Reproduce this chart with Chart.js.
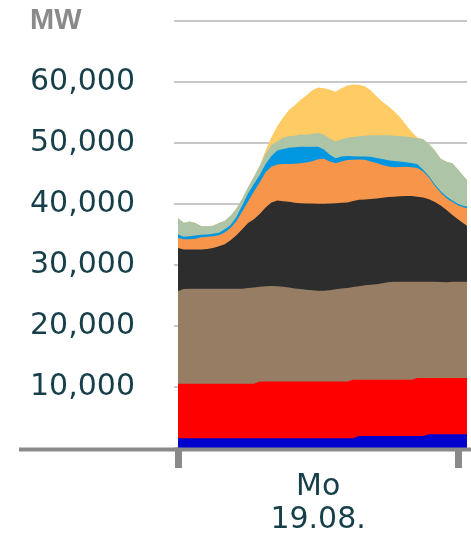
<!DOCTYPE html>
<html>
<head>
<meta charset="utf-8">
<script src="https://cdn.jsdelivr.net/npm/chart.js@4.4.0/dist/chart.umd.min.js"></script>
<style>
  html, body { margin: 0; padding: 0; background: #fff; }
  #box { width: 471px; height: 533px; position: relative; }
</style>
</head>
<body>
<div id="box"><canvas id="erzeugung"></canvas></div>
<script>
// Stunden des Tages (halbstuendlich, letzter Punkt 24:45)
let stunden = [0, 0.5, 1, 1.5, 2, 2.5, 3, 3.5, 4, 4.5, 5, 5.5, 6, 6.5, 7, 7.5, 8, 8.5, 9, 9.5,
  10, 10.5, 11, 11.5, 12, 12.5, 13, 13.5, 14, 14.5, 15, 15.5, 16, 16.5, 17, 17.5, 18, 18.5, 19, 19.5,
  20, 20.5, 21, 21.5, 22, 22.5, 23, 23.5, 24, 24.5, 24.75];

// Werte in MW, von unten nach oben gestapelt
let blau = [1600, 1600, 1600, 1600, 1600, 1600, 1600, 1600, 1600, 1600, 1600, 1600, 1600, 1600, 1600, 1600,
  1600, 1600, 1600, 1600, 1600, 1600, 1600, 1600, 1600, 1600, 1600, 1600, 1600, 1600, 1600,
  1950, 1950, 1950, 1950, 1950, 1950, 1950, 1950, 1950, 1950, 1950, 1950,
  2250, 2250, 2250, 2250, 2250, 2250, 2250, 2250];
let rot = [8950, 8950, 8950, 8950, 8950, 8950, 8950, 8950, 8950, 8950, 8950, 8950, 8950, 8950,
  9330, 9330, 9330, 9330, 9330, 9330, 9330, 9330, 9330, 9330, 9330, 9330, 9330, 9330, 9330, 9330,
  9600, 9250, 9250, 9250, 9250, 9250, 9250, 9250, 9250, 9250, 9250,
  9520, 9520, 9220, 9220, 9220, 9220, 9220, 9220, 9220, 9220];
let braun = [15220, 15550, 15600, 15600, 15600, 15600, 15600, 15600, 15600, 15600, 15600, 15600,
  15700, 15770, 15520, 15620, 15660, 15600, 15540, 15400, 15250, 15160, 15050, 14960, 14870, 14890,
  14950, 15100, 15240, 15340, 15200, 15360, 15520, 15590, 15660, 15830, 16010, 16060, 16080, 16090,
  16090, 15820, 15820, 15820, 15820, 15760, 15730, 15820, 15820, 15820, 15820];
let schwarz = [7060, 6470, 6420, 6420, 6420, 6500, 6680, 6950, 7300, 7950,
  8750, 9750, 10650, 11230, 11950, 12900, 13710, 14080, 14030, 14070,
  14070, 14090, 14140, 14210, 14270, 14250, 14220, 14120, 14060, 14030,
  14150, 14180, 14060, 14050, 14090, 14040, 13960, 13980, 14020, 14080,
  14040, 13940, 13810, 13510, 13060, 12570, 11850, 10960, 10210, 9510, 9190];
let orange = [1630, 1680, 1680, 1780, 2010, 2000, 1910, 1800, 1900, 2000,
  2300, 2900, 3550, 4550, 5200, 5800, 5850, 5890, 6090, 6190,
  6400, 6530, 6730, 6950, 7330, 7380, 6900, 6570, 6770, 6950,
  6750, 6590, 6520, 6160, 5800, 5380, 5030, 4810, 4800, 4780,
  4720, 4720, 4250, 3550, 2650, 2100, 1950, 2100, 2300, 2650, 2880];
let hellblau = [560, 400, 500, 500, 420, 400, 410, 400, 550, 500,
  700, 1000, 1300, 1200, 1200, 1350, 1750, 2300, 2460, 2660,
  2700, 2710, 2570, 2370, 2020, 1550, 1100, 830, 850, 650,
  580, 520, 520, 790, 850, 970, 1030, 1050, 900, 750,
  700, 600, 300, 250, 250, 250, 250, 250, 250, 250, 250];
let gruen = [2700, 2300, 2400, 2050, 1370, 1320, 1320, 1620, 1400, 1500,
  1400, 1100, 1050, 1200, 1500, 1600, 1800, 1500, 1900, 1900,
  1900, 2030, 1980, 2130, 2280, 2450, 2700, 2750, 2800, 3000,
  3170, 3300, 3430, 3540, 3730, 3910, 4090, 4150, 4200, 4220,
  4230, 4280, 5000, 5300, 5550, 5300, 5720, 6120, 5600, 4800, 4380];
let gelb = [0, 0, 0, 0, 0, 0, 0, 0, 0, 0, 0, 0, 0, 0,
  50, 600, 1300, 2500, 3300, 4300, 5000, 5700, 6500, 7150, 7450,
  7600, 8000, 8150, 8400, 8600, 8590, 8450, 8100, 7370, 6370,
  5470, 4780, 4050, 3100, 1980, 920, 120,
  0, 0, 0, 0, 0, 0, 0, 0, 0];

let xTicks = [0, 12, 24];
let xBeschriftung = { 12: ['Mo', '19.08.'] };

const textFarbe = '#173f4a';
const achsenGrau = '#8a8a8a';

function schicht(werte, farbe) {
    return {
        data: werte,
        backgroundColor: farbe,
        borderWidth: 0,
        pointRadius: 0,
        fill: 'origin',
        tension: 0
    };
}

// lange graue Grundlinie unter dem Diagramm
const grundlinie = {
    id: 'grundlinie',
    afterDraw(chart) {
        let c = chart.ctx;
        let y = chart.chartArea.bottom + 1.5;
        c.save();
        c.strokeStyle = achsenGrau;
        c.lineWidth = 4;
        c.beginPath();
        c.moveTo(19, y);
        c.lineTo(471, y);
        c.stroke();
        c.restore();
    }
};

new Chart(document.getElementById('erzeugung'), {
    type: 'line',
    data: {
        labels: stunden,
        datasets: [
            schicht(blau, '#0000cd'),
            schicht(rot, '#ff0000'),
            schicht(braun, '#967d64'),
            schicht(schwarz, '#2d2d2d'),
            schicht(orange, '#f7964b'),
            schicht(hellblau, '#0096e0'),
            schicht(gruen, '#adc4a7'),
            schicht(gelb, '#ffcb64')
        ]
    },
    options: {
        responsive: true,
        maintainAspectRatio: false,
        animation: false,
        events: [],
        layout: { padding: { left: 30, right: 4, top: 19, bottom: 0 } },
        plugins: {
            legend: { display: false },
            tooltip: { enabled: false },
            title: { display: false }
        },
        scales: {
            x: {
                type: 'linear',
                min: 0,
                max: 24.75,
                border: { display: false },
                grid: {
                    drawOnChartArea: false,
                    tickLength: 20,
                    lineWidth: 7,
                    color: (c) => (c.tick && c.tick.value === 12) ? 'rgba(0,0,0,0)' : achsenGrau
                },
                afterBuildTicks: (s) => { s.ticks = xTicks.map(v => ({ value: v })); },
                afterFit: (s) => { s.height = 85; },
                ticks: {
                    autoSkip: false,
                    maxRotation: 0,
                    padding: 3,
                    color: textFarbe,
                    font: { family: 'DejaVu Sans', size: 30, lineHeight: 1.1 },
                    callback: (v) => xBeschriftung[v] || ''
                }
            },
            y: {
                stacked: true,
                min: 0,
                max: 70000,
                border: { display: false },
                grid: {
                    display: true,
                    drawOnChartArea: true,
                    color: '#c8c8c8',
                    lineWidth: 2,
                    tickLength: 4
                },
                afterFit: (s) => { s.width = 148; },
                ticks: {
                    stepSize: 10000,
                    crossAlign: 'far',
                    padding: 4,
                    color: (c) => (c.tick && c.tick.value === 70000) ? achsenGrau : textFarbe,
                    font: (c) => (c.tick && c.tick.value === 70000)
                        ? { family: 'Liberation Sans', size: 29, weight: 'bold' }
                        : { family: 'DejaVu Sans', size: 30 },
                    callback: (v) => {
                        if (v === 70000) return 'MW';
                        if (v === 0) return '';
                        return v.toLocaleString('en-US');
                    }
                }
            }
        }
    },
    plugins: [grundlinie]
});
</script>
</body>
</html>
